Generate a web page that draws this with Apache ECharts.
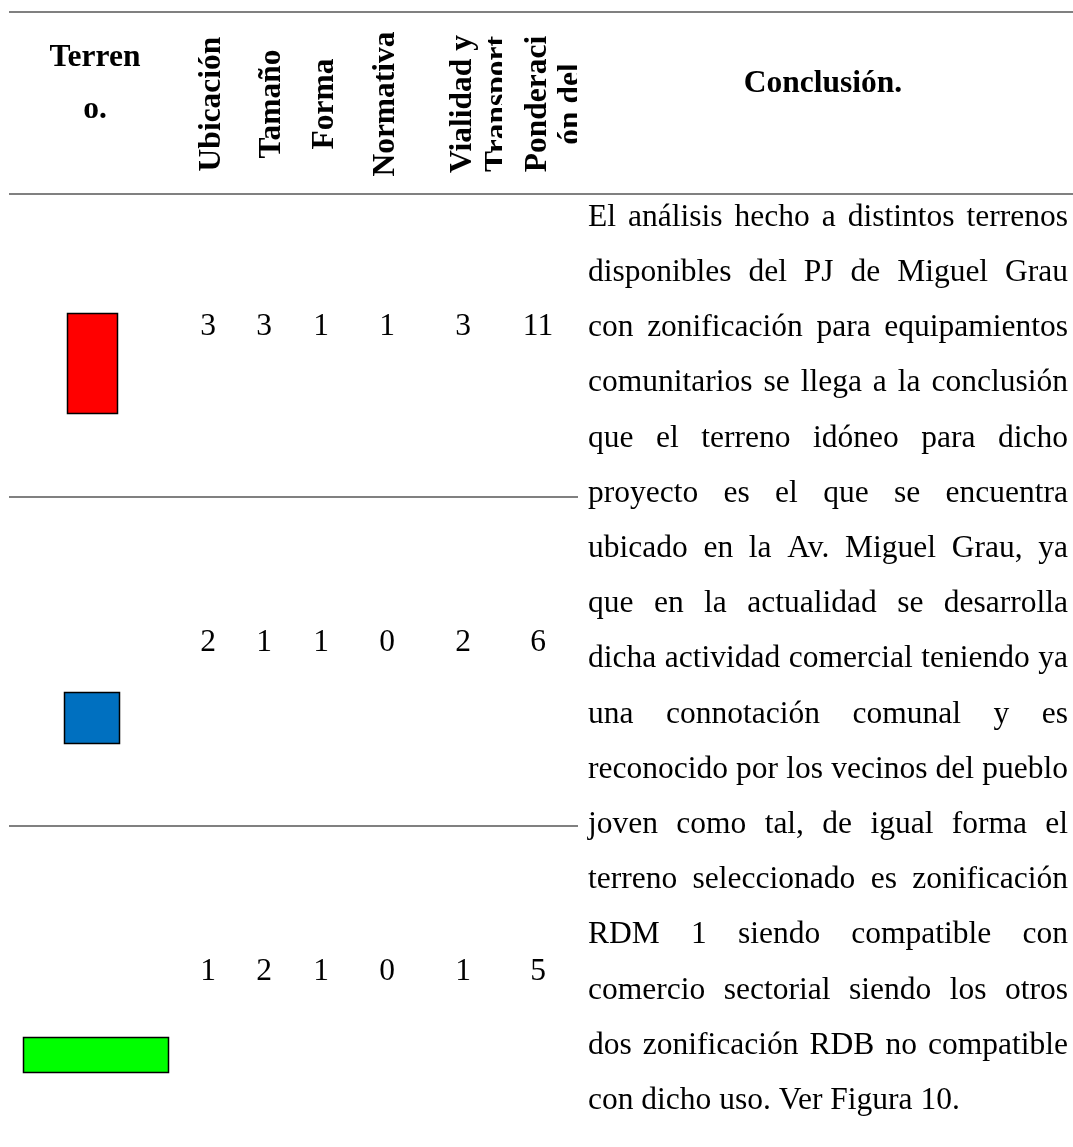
<!DOCTYPE html>
<html><head><meta charset="utf-8">
<script src="https://cdn.jsdelivr.net/npm/echarts/dist/echarts.min.js"></script>
<style>html,body{margin:0;padding:0;background:#fff}#c{width:1073px;height:1147px}</style>
</head><body><div id="c"></div>
<script>
// ---------- DATA ----------
const terrenoHeader = ['Terren', 'o.'];
const conclusionHeader = 'Conclusión.';
const criterios = [['Ubicación'], ['Tamaño'], ['Forma'], ['Normativa'], ['Vialidad y', 'Transport'], ['Ponderaci', 'ón del']];
const terrenoColors = ['#ff0000', '#0070c0', '#00ff00'];
const ubicacion = [3, 2, 1];
const tamano = [3, 1, 2];
const forma = [1, 1, 1];
const normativa = [1, 0, 0];
const vialidad = [3, 2, 1];
const ponderacion = [11, 6, 5];
const conclusionLines = [
  'El análisis hecho a distintos terrenos',
  'disponibles del PJ de Miguel Grau',
  'con zonificación para equipamientos',
  'comunitarios se llega a la conclusión',
  'que el terreno idóneo para dicho',
  'proyecto es el que se encuentra',
  'ubicado en la Av. Miguel Grau, ya',
  'que en la actualidad se desarrolla',
  'dicha actividad comercial teniendo ya',
  'una connotación comunal y es',
  'reconocido por los vecinos del pueblo',
  'joven como tal, de igual forma el',
  'terreno seleccionado es zonificación',
  'RDM 1 siendo compatible con',
  'comercio sectorial siendo los otros',
  'dos zonificación RDB no compatible',
  'con dicho uso. Ver Figura 10.'
];

// ---------- LAYOUT / STYLE ----------
const W = 1073, H = 1147;
const FAMILY = 'Liberation Serif';
const FS = 31.5;
const RULE = '#808080';
const ruleY = [12, 194];
const sepY = [497, 826];
const sepRight = 578;
const numX = [208, 264, 321, 387, 463, 538];
const numY = [327, 643, 972];
const headX = [[212], [272], [325], [386], [463, 497.5], [537.5, 571]];
const headY = 104;
const masks = [[502, 18, 16, 172], [577, 18, 10, 172]];
const rectBoxes = [[67.5, 313.5, 50, 100], [64.5, 692.5, 55, 51], [23.5, 1037.5, 145, 35]];
const paraLeft = 588, paraRight = 1068, paraTop = 221, paraStep = 55.2;

const columns = [ubicacion, tamano, forma, normativa, vialidad, ponderacion];
const cellData = [];
columns.forEach((col, c) => col.forEach((v, r) => cellData.push([numX[c], numY[r], v])));

const chart = echarts.init(document.getElementById('c'), null, {renderer: 'canvas', width: W, height: H});

const g = [];
ruleY.forEach(y => g.push({type: 'line', z: 1, shape: {x1: 9, y1: y, x2: W, y2: y}, style: {stroke: RULE, lineWidth: 2}}));
sepY.forEach(y => g.push({type: 'line', z: 1, shape: {x1: 9, y1: y, x2: sepRight, y2: y}, style: {stroke: RULE, lineWidth: 2}}));

function txt(text, x, y, opts) {
  opts = opts || {};
  return {
    type: 'text', x: x, y: y, z: 5, rotation: opts.rotation || 0,
    style: {
      text: text, fontSize: FS, fontFamily: FAMILY, fontWeight: opts.bold ? 'bold' : 'normal', fill: '#000',
      align: opts.align || 'center', textAlign: opts.align || 'center',
      verticalAlign: 'middle', textVerticalAlign: 'middle'
    }
  };
}
// header
g.push(txt(terrenoHeader[0], 95, 57.5, {bold: true}));
g.push(txt(terrenoHeader[1], 95, 109.5, {bold: true}));
g.push(txt(conclusionHeader, 823, 84, {bold: true}));
criterios.forEach((lines, c) => lines.forEach((t, k) => g.push(txt(t, headX[c][k], headY, {bold: true, rotation: Math.PI / 2}))));
masks.forEach(m => g.push({type: 'rect', z: 8, shape: {x: m[0], y: m[1], width: m[2], height: m[3]}, style: {fill: '#fff'}}));

// justified paragraph
const ctx = document.createElement('canvas').getContext('2d');
ctx.font = FS + 'px "' + FAMILY + '"';
const spaceW = ctx.measureText(' ').width;
const span = paraRight - paraLeft;
conclusionLines.forEach((line, i) => {
  const words = line.split(' ');
  const widths = words.map(w => ctx.measureText(w).width);
  const total = widths.reduce((a, b) => a + b, 0);
  const last = i === conclusionLines.length - 1;
  const gap = (last || words.length < 2) ? spaceW : (span - total) / (words.length - 1);
  let x = paraLeft;
  const y = paraTop + paraStep * i - 3.5;
  words.forEach((w, k) => {
    g.push(txt(w, x, y, {align: 'left'}));
    x += widths[k] + gap;
  });
});

chart.setOption({
  animation: false,
  grid: {left: 0, right: 0, top: 0, bottom: 0},
  xAxis: {type: 'value', min: 0, max: W, show: false},
  yAxis: {type: 'value', min: 0, max: H, inverse: true, show: false},
  series: [
    {
      type: 'custom', coordinateSystem: 'cartesian2d', data: cellData, clip: false,
      renderItem: function (params, api) {
        const p = api.coord([api.value(0), api.value(1)]);
        return {type: 'text', x: p[0], y: p[1], style: {text: String(api.value(2)), fontSize: FS, fontFamily: FAMILY, fill: '#000', align: 'center', verticalAlign: 'middle'}};
      }
    },
    {
      type: 'custom', coordinateSystem: 'cartesian2d', data: terrenoColors.map((c, r) => [r, r]), clip: false,
      renderItem: function (params, api) {
        const r = api.value(0);
        const b = rectBoxes[r];
        const p0 = api.coord([b[0], b[1]]);
        const p1 = api.coord([b[0] + b[2], b[1] + b[3]]);
        return {type: 'rect', shape: {x: p0[0], y: p0[1], width: p1[0] - p0[0], height: p1[1] - p0[1]}, style: {fill: terrenoColors[r], stroke: '#000', lineWidth: 1.5}};
      }
    }
  ],
  graphic: {elements: g}
});
</script>
</body></html>
